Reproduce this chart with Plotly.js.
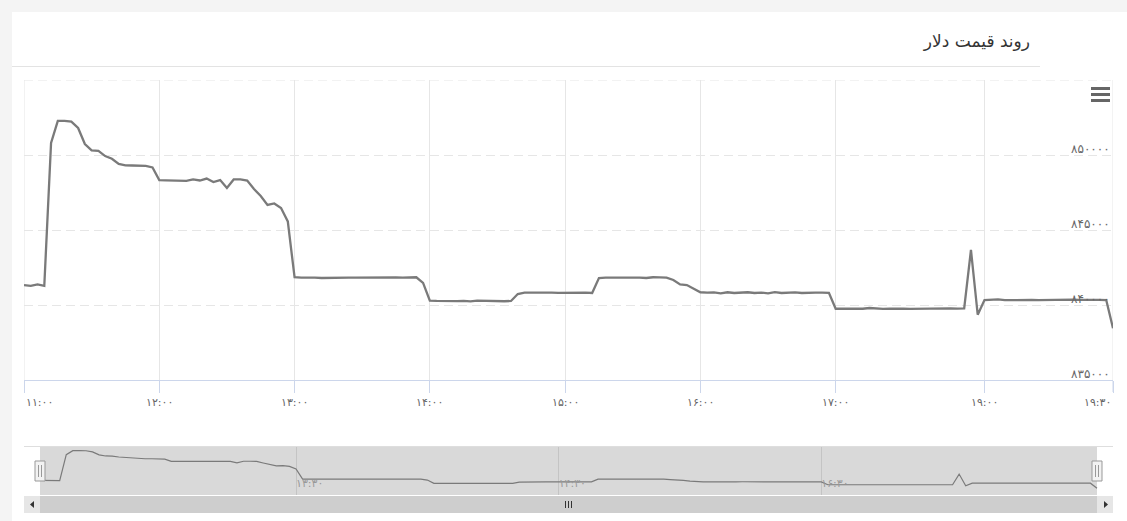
<!DOCTYPE html>
<html>
<head>
<meta charset="utf-8">
<script src="https://cdn.plot.ly/plotly-3.0.1.min.js"></script>
<style>
  html, body { margin: 0; padding: 0; background: #f4f4f4; width: 1127px; height: 521px; overflow: hidden; }
  #card { position: absolute; left: 12px; top: 12px; width: 1115px; height: 509px; background: #ffffff; }
  #sep { position: absolute; left: 12px; top: 66px; width: 1028px; height: 1px; background: #e3e3e3; }
  #chart { position: absolute; left: 0; top: 0; width: 1127px; height: 521px; }
</style>
</head>
<body>
<div id="card"></div>
<div id="sep"></div>
<div id="chart"></div>
<script>
// ---------- data ----------
const chartTitle = "روند قیمت دلار";

const times = [
  "11:00","11:03","11:06","11:09","11:12","11:15","11:18","11:21","11:24","11:27","11:30","11:33","11:36","11:39","11:42","11:45","11:48","11:51","11:54","11:57",
  "12:00","12:03","12:06","12:09","12:12","12:15","12:18","12:21","12:24","12:27","12:30","12:33","12:36","12:39","12:42","12:45","12:48","12:51","12:54","12:57",
  "13:00","13:03","13:06","13:09","13:12","13:15","13:18","13:21","13:24","13:27","13:30","13:33","13:36","13:39","13:42","13:45","13:48","13:51","13:54","13:57",
  "14:00","14:03","14:06","14:09","14:12","14:15","14:18","14:21","14:24","14:27","14:30","14:33","14:36","14:39","14:42","14:45","14:48","14:51","14:54","14:57",
  "15:00","15:03","15:06","15:09","15:12","15:15","15:18","15:21","15:24","15:27","15:30","15:33","15:36","15:39","15:42","15:45","15:48","15:51","15:54","15:57",
  "16:00","16:03","16:06","16:09","16:12","16:15","16:18","16:21","16:24","16:27","16:30","16:33","16:36","16:39","16:42","16:45","16:48","16:51","16:54","16:57",
  "17:00",
  "17:05","17:11","17:16","17:22","17:27","17:33","17:38","17:44","17:49","17:55","18:00","18:05","18:11","18:16","18:22","18:27","18:33","18:38","18:44","18:49","18:55",
  "19:00",
  "19:01","19:03","19:05","19:06","19:08","19:09","19:11","19:13","19:14","19:16","19:17","19:19","19:21","19:22","19:24","19:25","19:27","19:28",
  "19:30"
];

const prices = [
  841330,841270,841370,841270,850800,852270,852280,852230,851800,850730,850310,850270,849930,849750,849400,849310,849300,849300,849270,849170,
  848330,848310,848300,848270,848270,848370,848300,848430,848200,848330,847800,848370,848370,848300,847730,847270,846670,846770,846470,845570,
  841850,841830,841850,841830,841800,841820,841840,841830,841830,841820,841830,841850,841830,841820,841830,841840,841830,841820,841850,841470,
  840290,840270,840250,840270,840260,840280,840240,840290,840270,840260,840270,840250,840270,840730,840820,840830,840810,840820,840820,840810,
  840820,840830,840820,840820,840800,841800,841820,841830,841810,841820,841820,841830,841800,841850,841840,841830,841670,841370,841330,841100,
  840850,840830,840840,840780,840850,840800,840830,840850,840800,840830,840780,840860,840800,840830,840840,840800,840830,840820,840830,840810,
  839750,
  839740,839750,839760,839750,839800,839760,839740,839750,839770,839760,839740,839750,839760,839750,839740,839760,839770,839760,839770,843670,839350,
  840330,
  840340,840380,840320,840330,840310,840330,840340,840320,840330,840350,840340,840330,840360,840340,840350,840330,840340,840330,
  838450
];

const xTickVals  = ["11:00","12:00","13:00","14:00","15:00","16:00","17:00","19:00","19:30"];
const xTickText  = ["۱۱:۰۰","۱۲:۰۰","۱۳:۰۰","۱۴:۰۰","۱۵:۰۰","۱۶:۰۰","۱۷:۰۰","۱۹:۰۰","۱۹:۳۰"];
const yTickVals  = [835000, 840000, 845000, 850000, 855000];
const yTickText  = ["۸۳۵۰۰۰","۸۴۰۰۰۰","۸۴۵۰۰۰","۸۵۰۰۰۰",""];
const navTickVals = ["12:57","14:57","16:57"];
const navTickText = ["۱۳:۳۰","۱۴:۳۰","۱۶:۳۰"];

// ---------- layout helpers (pixel -> paper) ----------
const W = 1127, H = 521;
const M = {l: 24, r: 14, t: 80, b: 26};
const PW = W - M.l - M.r, PH = H - M.t - M.b;
const px = p => (p - M.l) / PW;
const py = p => (H - M.b - p) / PH;

const N = times.length;
const navPad = 16 / (1057 / (N - 1));
const FONT = "DejaVu Sans, Noto Sans, sans-serif";
const GRID = '#e6e6e6';
const AXIS = '#ccd6eb';
const mainBottom = py(380);

const shapes = [];
// edge grid lines / ticks that Plotly clips at the range ends
[0, N - 1].forEach(i => {
  shapes.push({type:'line', xref:'x', yref:'paper', x0:i, x1:i, y0:mainBottom, y1:1,
    line:{color:GRID, width:1}, layer:'below'});
  shapes.push({type:'line', xref:'x', yref:'paper', x0:i, x1:i, y0:mainBottom, y1:py(392),
    line:{color:AXIS, width:1}});
});
shapes.push({type:'line', xref:'paper', yref:'y', x0:0, x1:1, y0:yTickVals[yTickVals.length-1], y1:yTickVals[yTickVals.length-1],
  line:{color:GRID, width:1, dash:'9px,5px'}, layer:'below'});
// navigator selected-range mask
shapes.push({type:'rect', xref:'x2', yref:'y2 domain', x0:0, x1:N-1, y0:0, y1:1,
  fillcolor:'#d9d9d9', line:{width:0}, layer:'below'});
// navigator top outline
shapes.push({type:'line', xref:'paper', yref:'paper', x0:0, x1:1, y0:py(446.5), y1:py(446.5),
  line:{color:'#dedede', width:1}});
// navigator handles
[0, N-1].forEach(a => {
  shapes.push({type:'rect', xref:'x2', xsizemode:'pixel', xanchor:a, x0:-5, x1:5,
    yref:'paper', y0:py(481), y1:py(461), fillcolor:'#f2f2f2', line:{color:'#999999', width:1}});
  [-1.5, 1.5].forEach(o => shapes.push({type:'line', xref:'x2', xsizemode:'pixel', xanchor:a, x0:o, x1:o,
    yref:'paper', y0:py(477), y1:py(465), line:{color:'#999999', width:1}}));
});
// scrollbar
shapes.push({type:'rect', xref:'paper', yref:'paper', x0:px(24), x1:px(1113), y0:py(513), y1:py(496),
  fillcolor:'#cecece', line:{width:0}});
shapes.push({type:'rect', xref:'paper', yref:'paper', x0:px(24), x1:px(40), y0:py(513), y1:py(496),
  fillcolor:'#e6e6e6', line:{width:0}});
shapes.push({type:'rect', xref:'paper', yref:'paper', x0:px(1097), x1:px(1113), y0:py(513), y1:py(496),
  fillcolor:'#e6e6e6', line:{width:0}});
shapes.push({type:'path', xref:'paper', yref:'paper',
  path:`M ${px(30)} ${py(504.5)} L ${px(34)} ${py(501)} L ${px(34)} ${py(508)} Z`,
  fillcolor:'#333333', line:{width:0}});
shapes.push({type:'path', xref:'paper', yref:'paper',
  path:`M ${px(1108)} ${py(504.5)} L ${px(1104)} ${py(501)} L ${px(1104)} ${py(508)} Z`,
  fillcolor:'#333333', line:{width:0}});
[565.5, 568.5, 571.5].forEach(g => shapes.push({type:'line', xref:'paper', yref:'paper',
  x0:px(g), x1:px(g), y0:py(508), y1:py(501), line:{color:'#333333', width:1}}));
// context menu icon
[88.5, 94.5, 100.5].forEach(yy => shapes.push({type:'line', xref:'paper', yref:'paper',
  x0:px(1091), x1:px(1110), y0:py(yy), y1:py(yy), line:{color:'#666666', width:3}}));

const annotations = [];
// x tick labels (first left-aligned, last right-aligned, as in the reference)
xTickVals.forEach((v, k) => {
  const first = k === 0, last = k === xTickVals.length - 1;
  annotations.push({xref:'x', yref:'paper', x: times.indexOf(v), y: mainBottom,
    yanchor:'top', yshift:-14, xanchor: first ? 'left' : (last ? 'right' : 'center'),
    text: xTickText[k], showarrow:false, font:{family:FONT, size:11, color:'#666666'}});
});
// y tick labels, inside on the right, sitting just above the grid line
yTickVals.forEach((v, k) => {
  if (!yTickText[k]) return;
  annotations.push({xref:'paper', yref:'y', x:1, y:v, xanchor:'right', yanchor:'middle',
    xshift:-1, yshift:6, text:yTickText[k], showarrow:false,
    font:{family:FONT, size:12, color:'#666666'}});
});

const traces = [
  {x: times, y: prices, type:'scatter', mode:'lines', xaxis:'x', yaxis:'y',
   line:{color:'#7a7a7a', width:2.3}, hoverinfo:'skip', showlegend:false},
  {x: times, y: prices, type:'scatter', mode:'lines', xaxis:'x2', yaxis:'y2',
   line:{color:'#7a7a7a', width:1.2}, hoverinfo:'skip', showlegend:false}
];

const layout = {
  width: W, height: H,
  margin: M,
  paper_bgcolor: 'rgba(0,0,0,0)',
  plot_bgcolor: 'rgba(0,0,0,0)',
  font: {family: FONT, color:'#666666', size: 11},
  showlegend: false,
  title: {text: chartTitle, xref:'container', yref:'container', x: 1030/W, xanchor:'right',
          y: 1 - 41/H, yanchor:'middle', font:{family: FONT, size: 17, color:'#333333'}},
  xaxis: {type:'category', domain:[0,1], anchor:'y', range:[0, N-1],
          tickmode:'array', tickvals: xTickVals, showticklabels:false,
          showgrid:true, gridcolor:GRID, gridwidth:1,
          showline:true, linecolor:AXIS, linewidth:1,
          ticks:'outside', ticklen:12, tickcolor:AXIS, zeroline:false, fixedrange:true},
  yaxis: {domain:[mainBottom, 1], anchor:'x', side:'right', range:[835000, 855000],
          tickmode:'array', tickvals: yTickVals, showticklabels:false, ticks:'',
          showgrid:true, gridcolor:GRID, griddash:'9px,5px', gridwidth:1,
          showline:false, zeroline:false, fixedrange:true},
  xaxis2: {type:'category', domain:[0,1], anchor:'y2', range:[-navPad, N-1+navPad],
           tickmode:'array', tickvals: navTickVals, ticktext: navTickText,
           ticklabelposition:'inside right', ticks:'',
           showgrid:true, gridcolor:'#c4c4c4', gridwidth:1, showline:false, zeroline:false,
           tickfont:{size:11, color:'#999999'}, fixedrange:true},
  yaxis2: {domain:[0, py(447)], anchor:'x2', range:[836000, 853600],
           showticklabels:false, ticks:'', showgrid:false, zeroline:false, showline:false, fixedrange:true},
  shapes: shapes,
  annotations: annotations
};

Plotly.newPlot('chart', traces, layout, {displayModeBar:false, staticPlot:true});
</script>
</body>
</html>
